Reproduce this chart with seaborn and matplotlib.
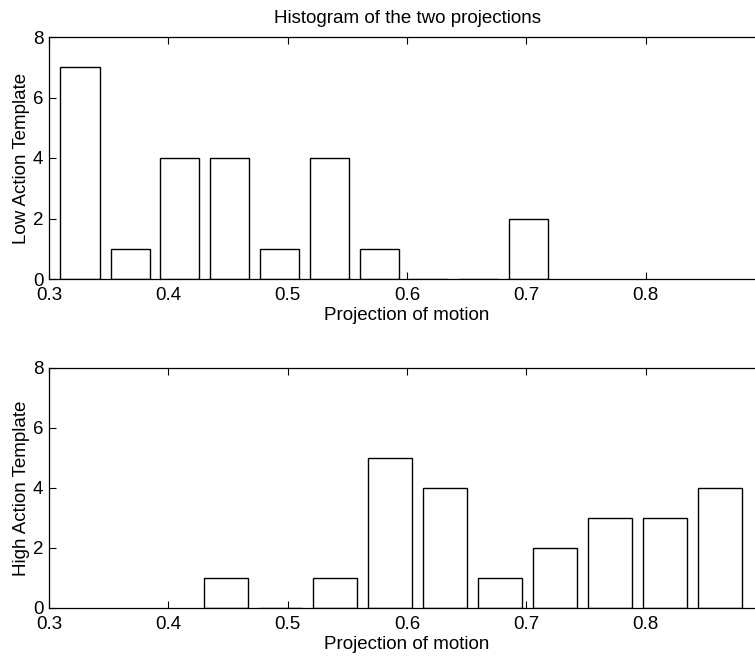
import matplotlib
matplotlib.use("Agg")
import matplotlib.pyplot as plt
import seaborn as sns
import pandas as pd

# Data
low_centers = [0.326, 0.368, 0.409, 0.451, 0.493, 0.535, 0.577, 0.618, 0.660, 0.702]
low_counts = [7, 1, 4, 4, 1, 4, 1, 0, 0, 2]
high_centers = [0.448, 0.494, 0.540, 0.586, 0.632, 0.678, 0.724, 0.770, 0.816, 0.862]
high_counts = [1, 0, 1, 5, 4, 1, 2, 3, 3, 4]
x_ticks = [0.3, 0.4, 0.5, 0.6, 0.7, 0.8, 0.9]
x_tick_labels = ["0.3", "0.4", "0.5", "0.6", "0.7", "0.8", ""]
y_ticks = [0, 2, 4, 6, 8]
title = "Histogram of the two projections"
xlabel = "Projection of motion"
ylabels = ["Low Action Template", "High Action Template"]

FS = 13.5
sns.set_style("ticks")
plt.rcParams["font.family"] = ["Liberation Sans", "DejaVu Sans"]
plt.rcParams["font.size"] = FS
plt.rcParams["text.color"] = "black"
plt.rcParams["axes.labelcolor"] = "black"
plt.rcParams["xtick.color"] = "black"
plt.rcParams["ytick.color"] = "black"

fig = plt.figure(figsize=(7.55, 6.59), dpi=100)
W, H = 755, 659
ax1 = fig.add_axes([49 / W, 1 - 279 / H, (765 - 49) / W, (279 - 37) / H])
ax2 = fig.add_axes([49 / W, 1 - 608 / H, (765 - 49) / W, (608 - 368) / H])

for ax, centers, counts, ylab in [
    (ax1, low_centers, low_counts, ylabels[0]),
    (ax2, high_centers, high_counts, ylabels[1]),
]:
    df = pd.DataFrame({"x": centers, "y": counts})
    sns.barplot(data=df, x="x", y="y", native_scale=True, width=0.8,
                color="white", edgecolor="black", linewidth=1.0,
                saturation=1, ax=ax)
    ax.set_xlim(0.3, 0.9)
    ax.set_ylim(0, 8)
    ax.set_xticks(x_ticks)
    ax.set_xticklabels(x_tick_labels)
    ax.set_yticks(y_ticks)
    ax.tick_params(axis="x", direction="in", top=True, length=5,
                   width=0.8, labelsize=FS, pad=6, colors="black")
    ax.tick_params(axis="y", direction="in", right=True, length=5,
                   width=0.8, labelsize=FS, pad=4, colors="black")
    for s in ax.spines.values():
        s.set_visible(True)
        s.set_linewidth(0.9)
        s.set_color("black")
    ax.set_xlabel(xlabel, fontsize=FS, labelpad=2, color="black")
    ax.set_ylabel(ylab, fontsize=FS, labelpad=2, color="black")

ax1.set_title(title, fontsize=FS, pad=10, color="black")

fig.savefig("out.png", dpi=100, facecolor="white")
